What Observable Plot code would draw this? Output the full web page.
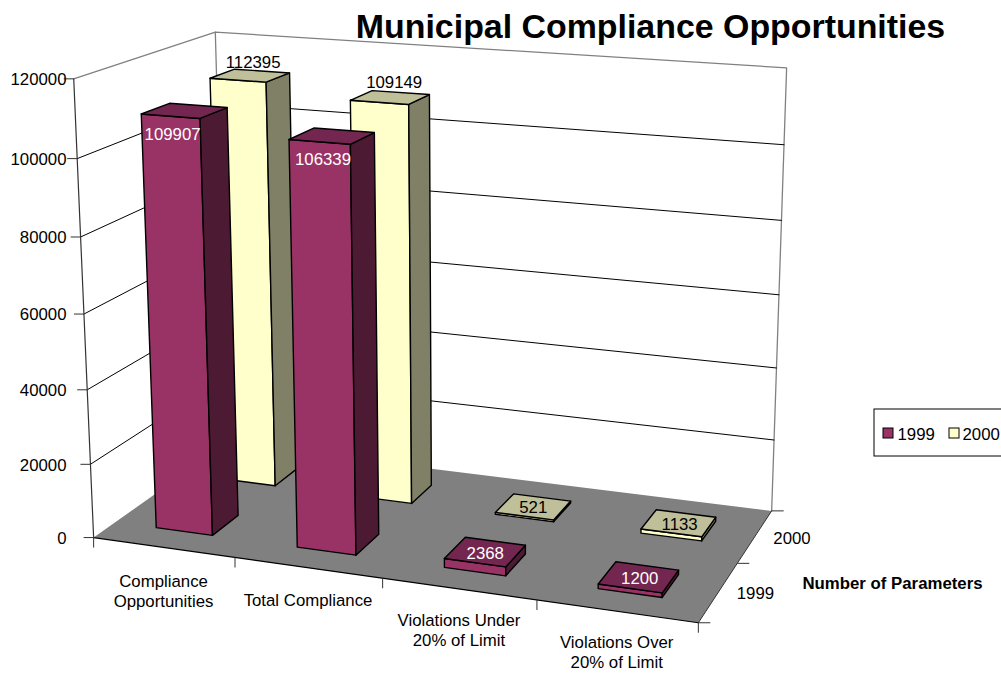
<!DOCTYPE html>
<html>
<head>
<meta charset="utf-8">
<script src="https://cdn.jsdelivr.net/npm/d3@7"></script>
<script src="https://cdn.jsdelivr.net/npm/@observablehq/plot@0.6"></script>
<style>
html,body{margin:0;padding:0;background:#fff;overflow:hidden}
svg{display:block}
</style>
</head>
<body>
<div id="chart"></div>
<script>
const chartTitle = "Municipal Compliance Opportunities";
const categories = ["Compliance\nOpportunities", "Total Compliance", "Violations Under\n20% of Limit", "Violations Over\n20% of Limit"];
const seriesNames = ["1999", "2000"];
const values1999 = [109907, 106339, 2368, 1200];
const values2000 = [112395, 109149, 521, 1133];
const valueTicks = [0, 20000, 40000, 60000, 80000, 100000, 120000];
const zMax = 120000;
const depthTitle = "Number of Parameters";

// label nudges (px) for the value labels, per series
const labelOffset1999 = [[-12, 24], [-9, 24], [0, 2], [1, 2]];
const labelOffset2000 = [[3, -13], [4, -15], [0, 1], [1, 2]];
const categoryLabelDy = [43, 32, 41, 40];

// Camera calibration: box position (u along categories, v into depth, w up) -> screen
const anchors = [
  [0,0,0,93,540],[1,0,0,697,621],[0,1,0,227,441],[1,1,0,772,510],
  [0,0,1,73,79],[0,1,1,213,33],[1,1,1,787,68],[1,1,1,787,68],
  [.25,0,0,234,558],[.5,0,0,382,579],[.75,0,0,536,599],[1,.5,0,737,563],
  [0,0,1/6,90,463],[0,0,2/6,87,389],[0,0,.5,84,313],[0,0,4/6,81,235],[0,0,5/6,77,157],
  [1,1,1/6,773,440],[1,1,2/6,776,368],[1,1,.5,778,295],[1,1,4/6,781,219],[1,1,5/6,783,143]
];
function solveCamera(pts) {
  const A = [], b = [];
  for (const [X,Y,Z,px,py] of pts) {
    const x = px/1000, y = py/1000;
    A.push([X,Y,Z,1,0,0,0,0,-x*X,-x*Y,-x*Z]); b.push(x);
    A.push([0,0,0,0,X,Y,Z,1,-y*X,-y*Y,-y*Z]); b.push(y);
  }
  const n = 11;
  const M = d3.range(n).map(i => d3.range(n+1).map(j =>
    j < n ? A.reduce((s,r)=>s+r[i]*r[j],0) : A.reduce((s,r,k)=>s+r[i]*b[k],0)));
  for (let i=0;i<n;i++){
    let p=i; for(let k=i+1;k<n;k++) if(Math.abs(M[k][i])>Math.abs(M[p][i])) p=k;
    [M[i],M[p]]=[M[p],M[i]];
    for(let k=0;k<n;k++) if(k!==i){const f=M[k][i]/M[i][i]; for(let j=i;j<=n;j++) M[k][j]-=f*M[i][j];}
  }
  return M.map((r,i)=>r[n]/r[i]);
}
const cam = solveCamera(anchors);
function project(u,v,w){
  const d = cam[8]*u+cam[9]*v+cam[10]*w+1;
  return {x:1000*(cam[0]*u+cam[1]*v+cam[2]*w+cam[3])/d, y:1000*(cam[4]*u+cam[5]*v+cam[6]*w+cam[7])/d};
}
const poly = (...c) => c.map(p => project(...p));
const closed = (...c) => { const a = poly(...c); a.push(a[0]); return a; };

const pal = {
  "1999": {front:"#993366", side:"#4d1a33", top:"#732650", text:"#ffffff"},
  "2000": {front:"#ffffcc", side:"#808066", top:"#bfbf99", text:"#000000"}
};
const barU = [[0.296,0.70],[0.29,0.695]], barV = [[0.15,0.345],[0.65,0.84]];
const series = [
  {name:"2000", idx:1, values:values2000, off:labelOffset2000},
  {name:"1999", idx:0, values:values1999, off:labelOffset1999}
];
const faceMarks = [], labelRows = [];
for (const s of series) {
  s.values.forEach((val,i) => {
    const u0=(i+barU[s.idx][0])/4, u1=(i+barU[s.idx][1])/4, [v0,v1]=barV[s.idx], w=val/zMax, c=pal[s.name];
    const st = {x:"x",y:"y",stroke:"#000",strokeWidth:1.4,strokeLinejoin:"round"};
    faceMarks.push(Plot.line(closed([u0,v0,0],[u1,v0,0],[u1,v0,w],[u0,v0,w]),{...st,fill:c.front}));
    faceMarks.push(Plot.line(closed([u1,v0,0],[u1,v1,0],[u1,v1,w],[u1,v0,w]),{...st,fill:c.side}));
    faceMarks.push(Plot.line(closed([u0,v0,w],[u1,v0,w],[u1,v1,w],[u0,v1,w]),{...st,fill:c.top}));
    const t = project((u0+u1)/2,(v0+v1)/2,w);
    labelRows.push({x:t.x+s.off[i][0],y:t.y+s.off[i][1],label:String(val),color:c.text});
  });
}

const gridLines = valueTicks.filter(t=>t>0&&t<zMax).map(t=>{const w=t/zMax;return poly([0,0,w],[0,1,w],[1,1,w]);});
const F = "Liberation Sans, Arial, sans-serif";
const fs = 16.8;

const axisZ = valueTicks.map(t=>({...project(0,0,t/zMax),label:String(t)}));
const axisU = [0,1,2,3,4].map(i=>project(i/4,0,0));
const axisV = [0,.5,1].map(v=>project(1,v,0));
const catRows = categories.map((c,i)=>{const p=project((i+.5)/4,0,0);return {x:p.x,y:p.y+categoryLabelDy[i],label:c};});
const serRows = seriesNames.map((n,i)=>{const p=project(1,(i+.5)/2,0);return {x:p.x+37,y:p.y+2,label:n};});

const legendBox = [{x1:874,x2:1002,y1:409,y2:456}];
const legendSw = [{x1:883,x2:893,y1:428,y2:438,f:pal["1999"].front},{x1:949,x2:959,y1:428,y2:438,f:pal["2000"].front}];
const legendTx = [{x:897,y:434,t:"1999"},{x:962,y:434,t:"2000"}];

const chart = Plot.plot({
  width:1001,height:673,margin:0,
  x:{domain:[0,1001],range:[0,1001],axis:null},
  y:{domain:[0,673],range:[0,673],axis:null},
  style:{background:"#fff",fontFamily:F},
  marks:[
    // walls
    Plot.line(poly([0,0,1],[0,1,1],[1,1,1],[1,1,0]),{x:"x",y:"y",stroke:"#808080",strokeWidth:1.3}),
    Plot.line(poly([0,1,1],[0,1,0]),{x:"x",y:"y",stroke:"#808080",strokeWidth:1.3}),
    ...gridLines.map(g=>Plot.line(g,{x:"x",y:"y",stroke:"#000",strokeWidth:1})),
    // floor
    Plot.line(closed([0,0,0],[1,0,0],[1,1,0],[0,1,0]),{x:"x",y:"y",fill:"#808080",stroke:"none"}),
    Plot.line(poly([0,0,0],[1,0,0]),{x:"x",y:"y",stroke:"#000",strokeWidth:1.2}),
    Plot.line(poly([0,0,0],[0,0,1]),{x:"x",y:"y",stroke:"#333",strokeWidth:1.2}),
    Plot.line(poly([1,0,0],[1,1,0]),{x:"x",y:"y",stroke:"#333",strokeWidth:1}),
    // ticks
    Plot.link(axisZ,{x1:"x",y1:"y",x2:d=>d.x-10,y2:"y",stroke:"#333"}),
    Plot.link(axisU,{x1:"x",y1:"y",x2:"x",y2:d=>d.y+10,stroke:"#333"}),
    Plot.link(axisV,{x1:"x",y1:"y",x2:d=>d.x+12,y2:"y",stroke:"#333"}),
    // bars
    ...faceMarks,
    // text
    Plot.text(labelRows,{x:"x",y:"y",text:"label",fill:"color",fontSize:fs}),
    Plot.text(axisZ,{x:()=>66,y:d=>d.y+1,text:"label",textAnchor:"end",fontSize:fs,fill:"#000"}),
    Plot.text(catRows,{x:"x",y:"y",text:"label",fontSize:fs,lineHeight:1.19,fill:"#000"}),
    Plot.text(serRows,{x:"x",y:"y",text:"label",fontSize:fs,fill:"#000"}),
    Plot.text([chartTitle],{x:()=>650,y:()=>27,text:d=>d,fontSize:33.9,fontWeight:"bold",fill:"#000"}),
    Plot.text([depthTitle],{x:()=>892,y:()=>583,text:d=>d,fontSize:16.8,fontWeight:"bold",fill:"#000"}),
    // legend
    Plot.rect(legendBox,{x1:"x1",x2:"x2",y1:"y1",y2:"y2",fill:"#fff",stroke:"#000"}),
    Plot.rect(legendSw,{x1:"x1",x2:"x2",y1:"y1",y2:"y2",fill:"f",stroke:"#000"}),
    Plot.text(legendTx,{x:"x",y:"y",text:"t",textAnchor:"start",fontSize:fs,fill:"#000"})
  ]
});
document.getElementById("chart").appendChild(chart);
</script>
</body>
</html>
